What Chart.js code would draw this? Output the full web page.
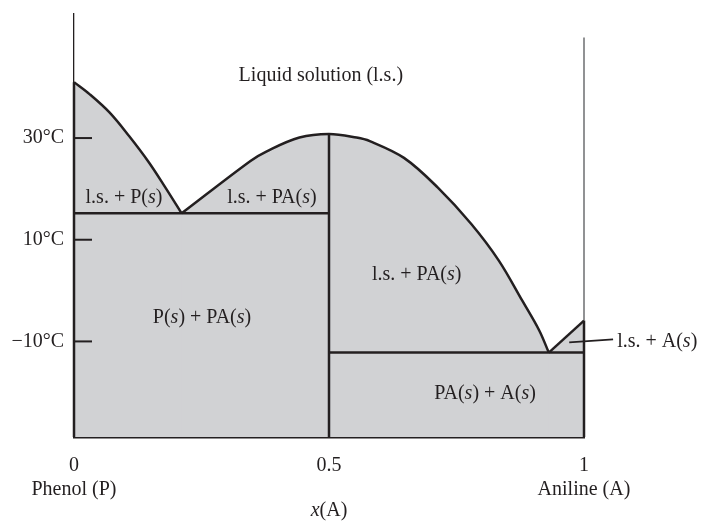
<!DOCTYPE html>
<html>
<head>
<meta charset="utf-8">
<title>Phenol - Aniline</title>
<script src="https://cdn.jsdelivr.net/npm/chart.js@4.4.1/dist/chart.umd.min.js"></script>
<style>
  body { margin: 0; background: #fff; }
  canvas { display: block; }
</style>
</head>
<body>
<canvas id="myChart" width="709" height="521"></canvas>
<script>
// data (x = mole fraction of aniline, T in °C)
const phenolX = [0, 0.031, 0.070, 0.108, 0.147, 0.179, 0.211];
const phenolT = [41.0, 38.6, 35.0, 30.4, 25.2, 20.3, 15.2];

const domeX = [0.211, 0.346, 0.378, 0.442, 0.5, 0.554, 0.580, 0.647, 0.713, 0.779, 0.833, 0.879, 0.912, 0.931];
const domeT = [15.2, 25.5, 27.4, 30.1, 30.8, 30.1, 29.4, 26.1, 20.3, 13.1, 5.9, -2.0, -7.8, -12.2];

const anilineX = [0.931, 1];
const anilineT = [-12.2, -5.9];

const eutectic1 = 15.2;   // P(s) + PA(s)
const eutectic2 = -12.2;  // PA(s) + A(s)
const compoundX = 0.5;
const compoundT = 30.8;

const tMin = -28.8;
const tMax = 54.4;
const rightTop = 49.8;

const yTickVals = [-10, 10, 30];
const xTickVals = [0, 0.5, 1];
const xTickNames = ["Phenol (P)", "", "Aniline (A)"];

// region labels, *...* = italic
const regionLabels = ["Liquid solution (l.s.)", "l.s. + P(*s*)", "l.s. + PA(*s*)", "P(*s*) + PA(*s*)", "l.s. + PA(*s*)", "PA(*s*) + A(*s*)", "l.s. + A(*s*)"];
const labelX = [0.484, 0.098, 0.388, 0.251, 0.672, 0.806, 1.065];
const labelT = [42.2, 18.2, 18.2, -5.3, 3.1, -20.3, -10.0];
const leaderX = [0.971, 1.057];
const leaderT = [-10.2, -9.6];

const ink = "#231f20";
const shade = "#d1d2d4";
const fontFamily = "'Liberation Serif', 'Times New Roman', serif";

function zip(xs, ys) {
  return xs.map((x, i) => ({ x: x, y: ys[i] }));
}

function lineSet(points, extra) {
  return Object.assign({
    data: points,
    borderColor: ink,
    borderWidth: 2.5,
    pointRadius: 0,
    fill: false,
    tension: 0,
    clip: false
  }, extra || {});
}

const filled = { fill: "start", backgroundColor: shade };
const smooth = { tension: 0.35 };

const datasets = [
  lineSet(zip(phenolX, phenolT), Object.assign({}, smooth, filled)),
  lineSet(zip(domeX, domeT), Object.assign({}, smooth, filled)),
  lineSet(zip(anilineX, anilineT), filled),
  lineSet([{ x: 0, y: eutectic1 }, { x: compoundX, y: eutectic1 }], filled),
  lineSet([{ x: compoundX, y: eutectic2 }, { x: 1, y: eutectic2 }], filled),
  lineSet([{ x: compoundX, y: tMin }, { x: compoundX, y: compoundT }]),
  lineSet([{ x: 0, y: tMin }, { x: 0, y: phenolT[0] }]),
  lineSet([{ x: 1, y: tMin }, { x: 1, y: anilineT[anilineT.length - 1] }]),
  lineSet([{ x: 1, y: anilineT[anilineT.length - 1] }, { x: 1, y: rightTop }], { borderColor: "#6d6e70", borderWidth: 1.5 }),
  lineSet(zip(leaderX, leaderT), { borderWidth: 1.8 })
];

function drawRich(ctx, text, x, y, align) {
  const parts = text.split("*");
  const widths = parts.map((p, i) => {
    ctx.font = (i % 2 ? "italic " : "") + "20px " + fontFamily;
    return ctx.measureText(p).width;
  });
  const total = widths.reduce((a, b) => a + b, 0);
  let cx = align === "left" ? x : x - total / 2;
  parts.forEach((p, i) => {
    ctx.font = (i % 2 ? "italic " : "") + "20px " + fontFamily;
    ctx.fillText(p, cx, y);
    cx += widths[i];
  });
}

// inner tick marks + labels
const decorations = {
  id: "decorations",
  afterDraw(chart) {
    const ctx = chart.ctx;
    const xs = chart.scales.x;
    const ys = chart.scales.y;
    ctx.save();
    ctx.strokeStyle = ink;
    ctx.lineWidth = 2;
    yTickVals.forEach(v => {
      const py = ys.getPixelForValue(v);
      ctx.beginPath();
      ctx.moveTo(xs.left, py);
      ctx.lineTo(xs.left + 18, py);
      ctx.stroke();
    });
    ctx.fillStyle = ink;
    ctx.textBaseline = "middle";
    ctx.textAlign = "left";
    regionLabels.forEach((lab, i) => {
      const last = i === regionLabels.length - 1;
      drawRich(ctx, lab, xs.getPixelForValue(labelX[i]), ys.getPixelForValue(labelT[i]), last ? "left" : "center");
    });
    drawRich(ctx, "*x*(A)", xs.getPixelForValue(0.5), 511, "center");
    ctx.restore();
  }
};

const config = {
  type: "line",
  data: { datasets },
  options: {
    responsive: false,
    devicePixelRatio: 1,
    animation: false,
    layout: { padding: { top: 12, right: 125, left: 0, bottom: 0 } },
    plugins: {
      legend: { display: false },
      tooltip: { enabled: false },
      filler: { drawTime: "beforeDatasetsDraw" }
    },
    scales: {
      x: {
        type: "linear",
        min: 0,
        max: 1,
        grid: { display: false },
        border: { display: true, color: ink, width: 2.5 },
        afterBuildTicks: s => { s.ticks = xTickVals.map(v => ({ value: v })); },
        afterFit: s => { s.height = 84; },
        ticks: {
          color: ink,
          padding: 9,
          maxRotation: 0,
          font: { family: fontFamily, size: 20, lineHeight: 1.2 },
          callback: (v) => [String(v), xTickNames[xTickVals.indexOf(v)]]
        }
      },
      y: {
        type: "linear",
        min: tMin,
        max: tMax,
        grid: { display: false },
        border: { display: true, color: ink, width: 1.3 },
        afterBuildTicks: s => { s.ticks = yTickVals.map(v => ({ value: v })); },
        afterFit: s => { s.width = 74; },
        ticks: {
          color: ink,
          padding: 2,
          font: { family: fontFamily, size: 20 },
          callback: (v) => (v < 0 ? "\u2212" + Math.abs(v) : v) + "°C"
        }
      }
    }
  },
  plugins: [decorations]
};

const myChart = new Chart(document.getElementById("myChart"), config);
</script>
</body>
</html>
